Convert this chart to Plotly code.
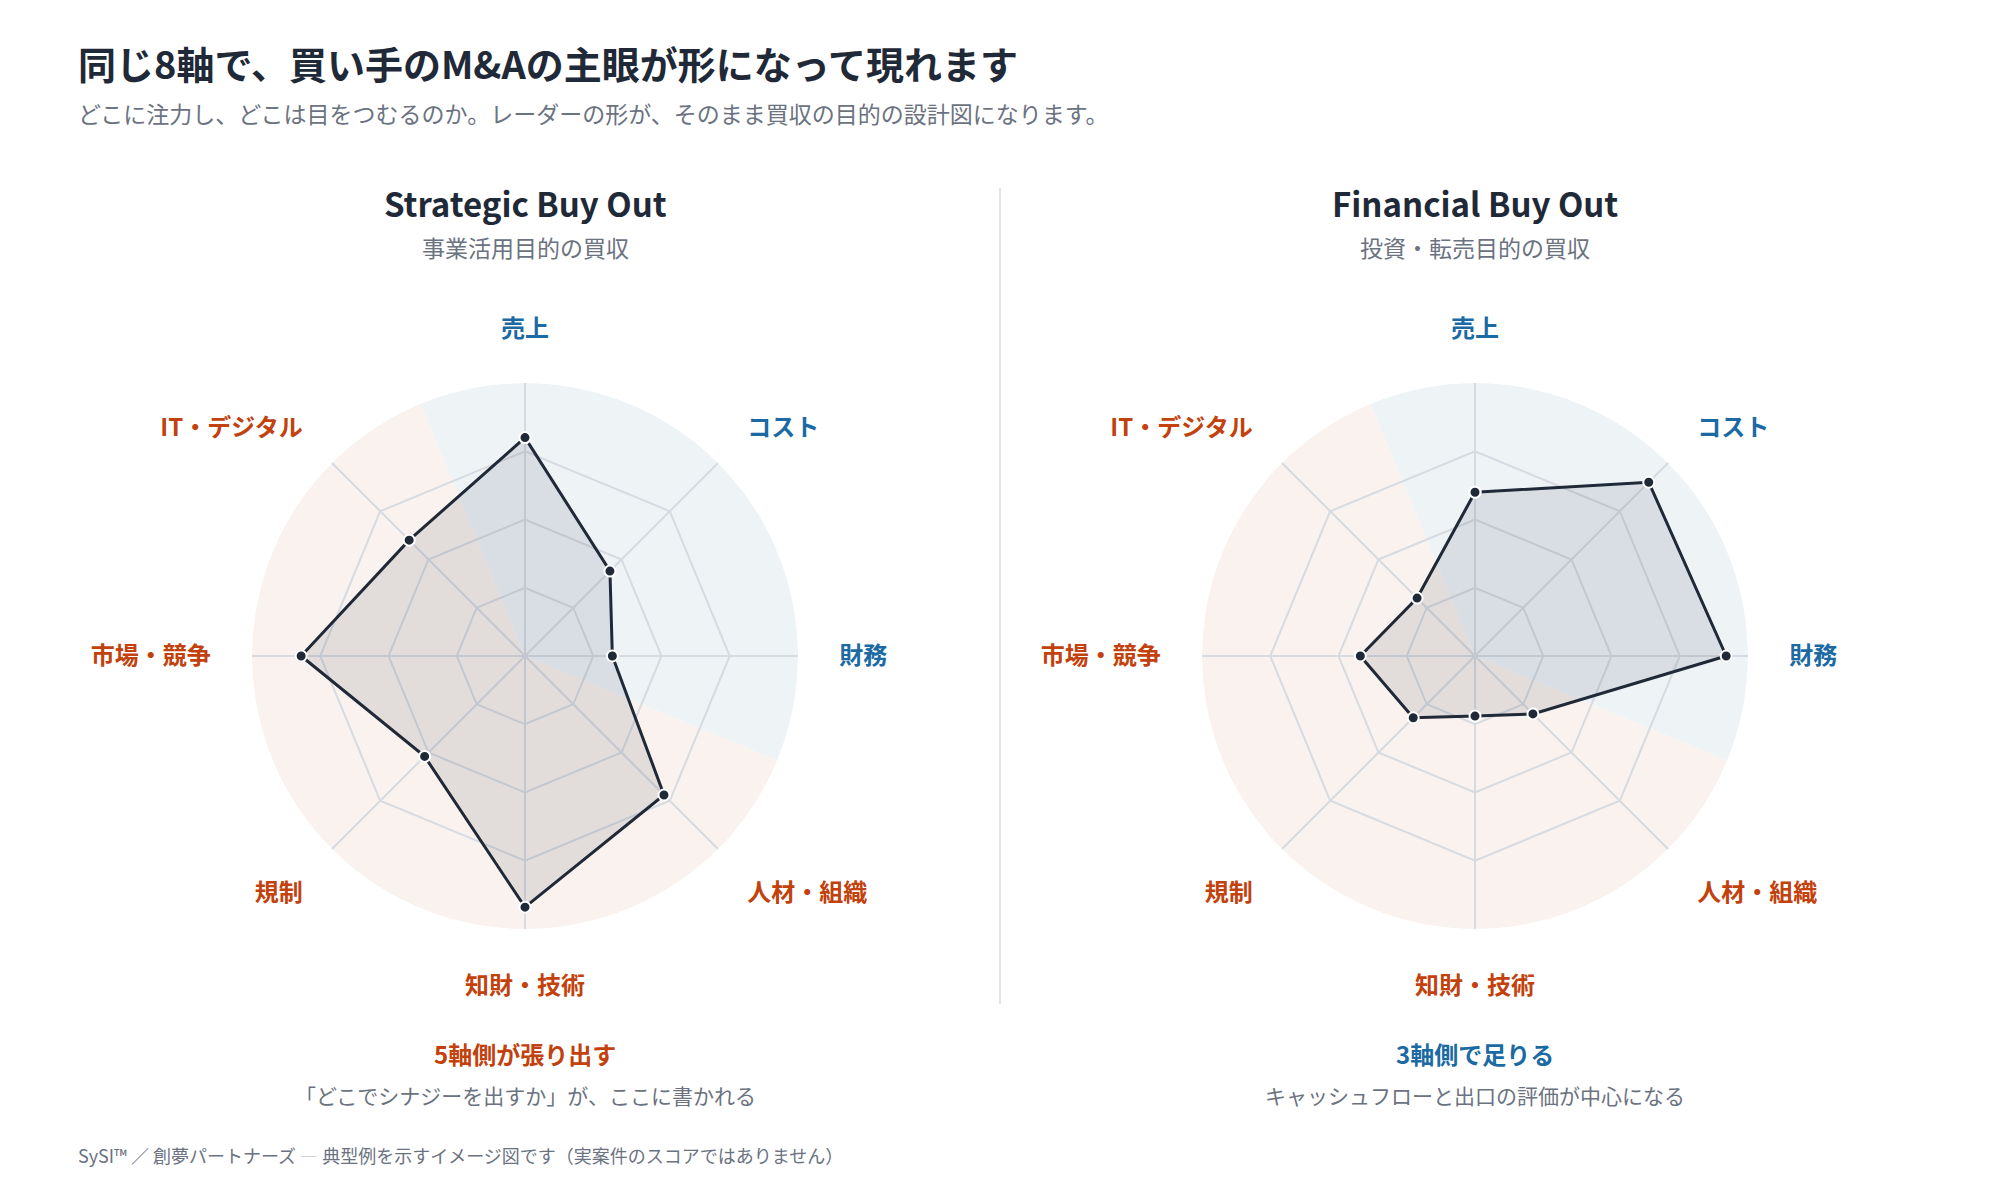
import plotly.graph_objects as go

# 8軸の並び(時計回り、上から)
axes_labels = ['売上', 'コスト', '財務', '人材・組織', '知財・技術', '規制', '市場・競争', 'IT・デジタル']
axis_group = ['blue', 'blue', 'blue', 'orange', 'orange', 'orange', 'orange', 'orange']

strategic_scores = [80, 44, 32, 72, 92, 52, 82, 60]
financial_scores = [60, 90, 92, 30, 22, 32, 42, 30]

grid_ticks = [25, 50, 75, 100]

# 背景の扇形 (中心角, 幅)
sector_centers = [45, 225]
sector_widths = [135, 225]
sector_colors = ['#eef3f6', '#f9f2ee']

BLUE = '#1b6aa3'
ORANGE = '#c2410c'
NAVY = '#1f2937'
GREY = '#6b7280'
FONT = 'Noto Sans CJK JP'

# ページのbody余白(8px)を差し引いた大きさで作る
W, H, OFF = 1984, 1172, 8


def px(x):
    return (x - OFF) / W


def py(y):
    return 1 - (y - OFF) / H


group_color = {'blue': BLUE, 'orange': ORANGE}
tick_text = [f'<span style="color:{group_color[g]}"><b>{t}</b></span>'
             for t, g in zip(axes_labels, axis_group)]

fig = go.Figure()

R = 273
CY = 656
panels = [
    ('polar', 'polar2', strategic_scores, 525),
    ('polar3', 'polar4', financial_scores, 1475),
]
y_dom = [py(CY + R), py(CY - R)]

for bg_name, fg_name, scores, cx in panels:
    x_dom = [px(cx - R), px(cx + R)]
    # 円形の背景(青 3軸 / 橙 5軸)
    fig.add_trace(go.Barpolar(
        r=[100, 100],
        theta=sector_centers,
        width=sector_widths,
        marker=dict(color=sector_colors, line=dict(width=0)),
        hoverinfo='skip',
        showlegend=False,
        subplot=bg_name,
    ))
    # レーダー本体
    fig.add_trace(go.Scatterpolar(
        r=scores + scores[:1],
        theta=axes_labels + axes_labels[:1],
        mode='lines+markers',
        fill='toself',
        fillcolor='rgba(31,41,55,0.10)',
        line=dict(color=NAVY, width=3),
        marker=dict(size=11, color=NAVY, line=dict(color='white', width=2)),
        showlegend=False,
        subplot=fg_name,
    ))

    fig.update_layout(**{
        bg_name: dict(
            domain=dict(x=x_dom, y=y_dom),
            bgcolor='rgba(0,0,0,0)',
            radialaxis=dict(range=[0, 100], visible=False),
            angularaxis=dict(type='linear', rotation=90, direction='clockwise',
                             showgrid=False, showline=False, showticklabels=False, ticks=''),
        ),
        fg_name: dict(
            domain=dict(x=x_dom, y=y_dom),
            bgcolor='rgba(0,0,0,0)',
            gridshape='linear',
            radialaxis=dict(range=[0, 100], tickvals=grid_ticks, showticklabels=False,
                            ticks='', showline=False, gridcolor='#d6dbe1', gridwidth=1.5),
            angularaxis=dict(rotation=90, direction='clockwise',
                             categoryorder='array', categoryarray=axes_labels,
                             tickmode='array', tickvals=axes_labels, ticktext=tick_text,
                             tickfont=dict(size=24, family=FONT),
                             ticks='outside', ticklen=36, tickcolor='rgba(0,0,0,0)',
                             showline=False, gridcolor='#d6dbe1', gridwidth=1.5),
        ),
    })

annotations = [
    dict(x=px(76), y=py(62), xanchor='left',
         text='<b>同じ8軸で、買い手のM&Aの主眼が形になって現れます</b>',
         font=dict(size=38, color=NAVY)),
    dict(x=px(76), y=py(113), xanchor='left',
         text='どこに注力し、どこは目をつむるのか。レーダーの形が、そのまま買収の目的の設計図になります。',
         font=dict(size=23, color=GREY)),
    # 左
    dict(x=px(525), y=py(203), text='<b>Strategic Buy Out</b>', font=dict(size=33, color=NAVY)),
    dict(x=px(525), y=py(247), text='事業活用目的の買収', font=dict(size=23, color=GREY)),
    dict(x=px(525), y=py(1053), text='<b>5軸側が張り出す</b>', font=dict(size=24, color=ORANGE)),
    dict(x=px(525), y=py(1095), text='「どこでシナジーを出すか」が、ここに書かれる', font=dict(size=21, color=GREY)),
    # 右
    dict(x=px(1475), y=py(203), text='<b>Financial Buy Out</b>', font=dict(size=33, color=NAVY)),
    dict(x=px(1475), y=py(247), text='投資・転売目的の買収', font=dict(size=23, color=GREY)),
    dict(x=px(1475), y=py(1053), text='<b>3軸側で足りる</b>', font=dict(size=24, color=BLUE)),
    dict(x=px(1475), y=py(1095), text='キャッシュフローと出口の評価が中心になる', font=dict(size=21, color=GREY)),
    # 注記
    dict(x=px(76), y=py(1155), xanchor='left',
         text='SySI™ ／ 創夢パートナーズ <span style="color:#c4c8ce">―</span> 典型例を示すイメージ図です（実案件のスコアではありません）',
         font=dict(size=18, color=GREY)),
]
for a in annotations:
    a.setdefault('xanchor', 'center')
    a.setdefault('yanchor', 'middle')
    a['xref'] = 'paper'
    a['yref'] = 'paper'
    a['showarrow'] = False

fig.update_layout(
    width=W,
    height=H,
    margin=dict(l=0, r=0, t=0, b=0),
    paper_bgcolor='white',
    plot_bgcolor='white',
    font=dict(family=FONT, color=NAVY),
    annotations=annotations,
    shapes=[dict(type='line', xref='paper', yref='paper', x0=px(1000), x1=px(1000),
                 y0=py(1004), y1=py(188), line=dict(color='#e2e5e9', width=2))],
)

fig.write_html("out.html")
